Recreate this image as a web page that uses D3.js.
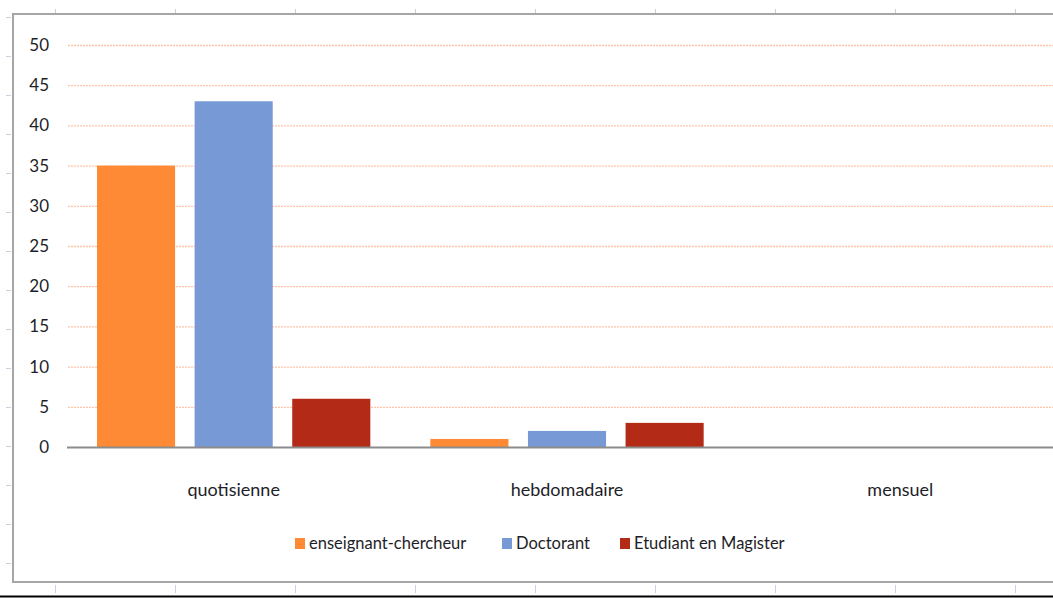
<!DOCTYPE html>
<html>
<head>
<meta charset="utf-8">
<script src="https://cdn.jsdelivr.net/npm/d3@7"></script>
<style>
  body { margin: 0; background: #fff; }
  svg { display: block; font-family: Lato, "Open Sans", sans-serif; }
</style>
</head>
<body>
<div id="chart"></div>
<script>
const categories = ['quotisienne', 'hebdomadaire', 'mensuel'];
const seriesNames = ['enseignant-chercheur', 'Doctorant', 'Etudiant en Magister'];
const enseignant = [35, 1, 0];
const doctorant = [43, 2, 0];
const magister = [6, 3, 0];
const yTicks = [0, 5, 10, 15, 20, 25, 30, 35, 40, 45, 50];

const colors = ['#FF8A35', '#7799D6', '#B32A17'];
const series = [enseignant, doctorant, magister];

const W = 1053, H = 598;
const svg = d3.select('#chart').append('svg')
  .attr('width', W)
  .attr('height', H);

// sheet marks around the frame
const sheet = svg.append('g').attr('stroke', '#c9d0e0').attr('stroke-width', 1);
d3.range(55, W, 120).forEach(x => {
  sheet.append('line').attr('x1', x + 0.5).attr('x2', x + 0.5).attr('y1', 9).attr('y2', 13);
  sheet.append('line').attr('x1', x + 0.5).attr('x2', x + 0.5).attr('y1', 585).attr('y2', 593);
});
d3.range(17, 580, 39).forEach(y => {
  sheet.append('line').attr('x1', 6).attr('x2', 11).attr('y1', y + 0.5).attr('y2', y + 0.5);
});
svg.append('line')
  .attr('x1', 0).attr('x2', W).attr('y1', 596.5).attr('y2', 596.5)
  .attr('stroke', '#000').attr('stroke-width', 2);

// chart frame
svg.append('rect')
  .attr('x', 13).attr('y', 14)
  .attr('width', W + 20).attr('height', 568)
  .attr('fill', '#fff')
  .attr('stroke', '#a6a6a6').attr('stroke-width', 2);

const x0 = d3.scaleBand().domain(categories).range([67, 1067]);
const x1 = d3.scaleBand().domain(seriesNames).range([30, x0.bandwidth() - 30]).paddingInner(0.2);
const y = d3.scaleLinear().domain([0, 50]).range([447, 45]);

// gridlines
svg.append('g')
  .selectAll('line')
  .data(yTicks.filter(d => d > 0))
  .enter()
  .append('line')
  .attr('x1', 68).attr('x2', W)
  .attr('y1', d => y(d) + 0.5).attr('y2', d => y(d) + 0.5)
  .attr('stroke', '#ffc3a8')
  .attr('stroke-width', 1.3)
  .attr('stroke-dasharray', '2,1');

// y axis labels
const yAxis = d3.axisLeft(y).tickValues(yTicks).tickSize(0).tickPadding(0);
svg.append('g')
  .attr('transform', 'translate(49,0)')
  .call(yAxis)
  .call(g => g.select('.domain').remove())
  .selectAll('text')
  .attr('font-size', 17)
  .attr('font-family', 'Lato, "Open Sans", sans-serif')
  .attr('fill', '#1e1e28');

// bars
const groups = svg.append('g')
  .selectAll('g')
  .data(categories)
  .enter()
  .append('g')
  .attr('transform', d => 'translate(' + x0(d) + ',0)');

groups.selectAll('rect')
  .data((c, i) => seriesNames.map((s, j) => ({ s: s, v: series[j][i], j: j })))
  .enter()
  .append('rect')
  .attr('x', d => x1(d.s))
  .attr('width', x1.bandwidth())
  .attr('y', d => y(d.v))
  .attr('height', d => y(0) - y(d.v))
  .attr('fill', d => colors[d.j]);

// baseline
svg.append('line')
  .attr('x1', 67).attr('x2', W)
  .attr('y1', y(0) + 0.5).attr('y2', y(0) + 0.5)
  .attr('stroke', '#8c8c8c').attr('stroke-width', 2);

// category labels
const xAxis = d3.axisBottom(x0).tickSize(0).tickPadding(0);
svg.append('g')
  .attr('transform', 'translate(0,483)')
  .call(xAxis)
  .call(g => g.select('.domain').remove())
  .selectAll('text')
  .attr('font-size', 18)
  .attr('font-family', 'Lato, "Open Sans", sans-serif')
  .attr('fill', '#1e1e28');

// legend
const legendX = [295, 502, 620];
const legend = svg.append('g')
  .selectAll('g')
  .data(seriesNames)
  .enter()
  .append('g')
  .attr('transform', (d, i) => 'translate(' + legendX[i] + ',538)');
legend.append('rect')
  .attr('width', 10).attr('height', 11)
  .attr('fill', (d, i) => colors[i]);
legend.append('text')
  .attr('x', 14).attr('y', 11)
  .attr('font-size', 16.5)
  .attr('fill', '#1e1e28')
  .text(d => d);
</script>
</body>
</html>
